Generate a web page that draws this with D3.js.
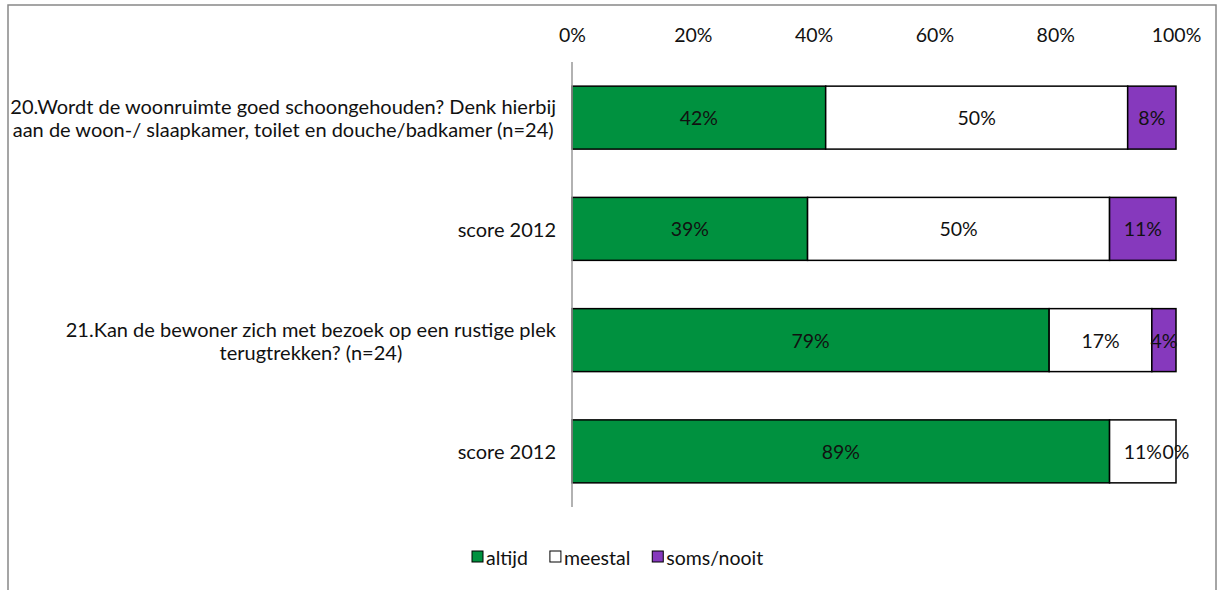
<!DOCTYPE html>
<html>
<head>
<meta charset="utf-8">
<script src="https://cdn.jsdelivr.net/npm/d3@7"></script>
<style>
  html, body { margin: 0; padding: 0; background: #fff; }
  svg { display: block; }
  text { font-family: Lato, "Open Sans", sans-serif; fill: #111; }
</style>
</head>
<body>
<svg id="chart" width="1218" height="590"></svg>
<script>
// Survey answers, in percent per row
const categories = [
  ["20.Wordt de woonruimte goed schoongehouden? Denk hierbij", "aan de woon-/ slaapkamer, toilet en douche/badkamer (n=24)"],
  ["score 2012"],
  ["21.Kan de bewoner zich met bezoek op een rustige plek", "terugtrekken? (n=24)"],
  ["score 2012"]
];
const seriesNames = ["altijd", "meestal", "soms/nooit"];
const altijd    = [42, 39, 79, 89];
const meestal   = [50, 50, 17, 11];
const somsNooit = [8, 11, 4, 0];
const tickValues = [0, 20, 40, 60, 80, 100];
const colors = ["#00913f", "#ffffff", "#8639bd"];

const svg = d3.select("#chart");
const FS = "19.5px";

// outer frame of the chart area
svg.append("rect")
  .attr("x", 8).attr("y", 5).attr("width", 1208).attr("height", 600)
  .attr("fill", "#fff").attr("stroke", "#888").attr("stroke-width", 1.5);

const x = d3.scaleLinear().domain([0, 100]).range([572, 1176]);
const y = d3.scaleBand().domain(d3.range(categories.length))
  .range([62, 507]).paddingInner(0.434).paddingOuter(0.217);

// stacked layout
const rows = categories.map((c, i) => ({ i, altijd: altijd[i], meestal: meestal[i], soms: somsNooit[i] }));
const layers = d3.stack().keys(["altijd", "meestal", "soms"])(rows);

// top axis labels
const axis = d3.axisTop(x).tickValues(tickValues).tickFormat(d => d + "%").tickSize(0).tickPadding(0);
const gAxis = svg.append("g").attr("transform", "translate(0,42)").call(axis);
gAxis.select(".domain").remove();
gAxis.selectAll("text").style("font-size", FS).style("font-family", "Lato, sans-serif").attr("fill", "#111");

// bars with value labels
layers.forEach((layer, k) => {
  const g = svg.append("g");
  g.selectAll("rect").data(layer).join("rect")
    .attr("x", d => x(d[0]))
    .attr("y", (d, i) => y(i))
    .attr("width", d => x(d[1]) - x(d[0]))
    .attr("height", y.bandwidth())
    .attr("fill", colors[k])
    .attr("stroke", "#000")
    .attr("stroke-width", 1.5);
  g.selectAll("text").data(layer).join("text")
    .attr("x", d => (x(d[0]) + x(d[1])) / 2)
    .attr("y", (d, i) => y(i) + y.bandwidth() / 2)
    .attr("text-anchor", "middle")
    .attr("dominant-baseline", "central")
    .style("font-size", FS)
    .text(d => (d[1] - d[0]) + "%");
});

// vertical category axis line
svg.append("line")
  .attr("x1", x(0)).attr("x2", x(0))
  .attr("y1", 62).attr("y2", 507)
  .attr("stroke", "#999").attr("stroke-width", 1.5);

// category labels: block right aligned next to the axis, lines centred in the block
const lineH = 23;
const labelRight = 556;
categories.forEach((lines, i) => {
  const cy = y(i) + y.bandwidth() / 2;
  const t = svg.append("text")
    .attr("text-anchor", "middle")
    .style("font-size", "20px");
  const spans = lines.map((ln, j) => t.append("tspan")
    .attr("x", 0)
    .attr("y", cy + (j - (lines.length - 1) / 2) * lineH)
    .attr("dominant-baseline", "central")
    .text(ln));
  const maxW = d3.max(spans, s => s.node().getComputedTextLength());
  spans.forEach(s => s.attr("x", labelRight - maxW / 2));
});

// legend
const legend = svg.append("g");
let lx = 472;
seriesNames.forEach((name, k) => {
  legend.append("rect")
    .attr("x", lx).attr("y", 551)
    .attr("width", 11).attr("height", 11)
    .attr("fill", colors[k]).attr("stroke", "#000").attr("stroke-width", 1);
  const t = legend.append("text")
    .attr("x", lx + 14).attr("y", 557)
    .attr("dominant-baseline", "central")
    .style("font-size", FS)
    .text(name);
  lx += 14 + t.node().getComputedTextLength() + 22;
});
</script>
</body>
</html>
